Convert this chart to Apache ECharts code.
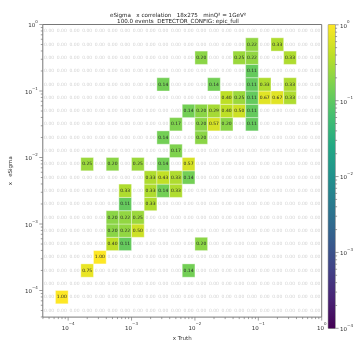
<!DOCTYPE html>
<html><head><meta charset="utf-8">
<script src="https://cdn.jsdelivr.net/npm/echarts@6/dist/echarts.min.js"></script>
<style>html,body{margin:0;padding:0;background:#fff}#c{width:356px;height:347px}</style>
</head><body><div id="c"></div>
<script>
// ---- chart text ----
const titleLine1 = 'eSigma   x correlation   18x275   minQ\u00b2 = 1GeV\u00b2';
const titleLine2 = '100.0 events  DETECTOR_CONFIG: epic_full';
const xAxisName = 'x Truth';
const yAxisName = 'x   eSigma';

// ---- bin edges (log10) ----
const xEdgeExp = [-4.4,-4.2,-4.0,-3.8,-3.6,-3.4,-3.2,-3.0,-2.8,-2.6,-2.4,-2.2,-2.0,-1.8,-1.6,-1.4,-1.2,-1.0,-0.8,-0.6,-0.4,-0.2,0.0];
const yEdgeExp = [-4.4,-4.2,-4.0,-3.8,-3.6,-3.4,-3.2,-3.0,-2.8,-2.6,-2.4,-2.2,-2.0,-1.8,-1.6,-1.4,-1.2,-1.0,-0.8,-0.6,-0.4,-0.2,0.0];

// ---- non-zero cells: column index, row index (from bottom), value ----
const cellCol = [16,18, 12,15,16,19, 16, 9,13,16,17,19, 14,15,16,17,18,19, 11,12,13,14,15,16, 10,12,13,14,16, 9,12, 10, 3,5,7,9,11, 8,9,10,11, 6,8,9,10, 6,8, 5,6,7, 5,6,7, 5,6,12, 4, 3,11, 1];
const cellRow = [20,20, 19,19,19,19, 18, 17,17,17,17,17, 16,16,16,16,16,16, 15,15,15,15,15,15, 14,14,14,14,14, 13,13, 12, 11,11,11,11,11, 10,10,10,10, 9,9,9,9, 8,8, 7,7,7, 6,6,6, 5,5,5, 4, 3,3, 1];
const cellVal = [0.22,0.33, 0.20,0.25,0.22,0.33, 0.11, 0.14,0.14,0.11,0.33,0.33, 0.40,0.25,0.11,0.67,0.67,0.33, 0.14,0.20,0.29,0.40,0.50,0.11, 0.17,0.20,0.57,0.20,0.11, 0.14,0.20, 0.17, 0.25,0.20,0.25,0.14,0.57, 0.33,0.43,0.33,0.14, 0.33,0.33,0.14,0.33, 0.11,0.33, 0.20,0.22,0.25, 0.20,0.22,0.50, 0.40,0.11,0.20, 1.00, 0.75,0.14, 1.00];

// ---- axis / colorbar ranges (log10) ----
const axisMinExp = -4.4, axisMaxExp = 0;
const cbMinExp = -4, cbMaxExp = 0;

const viridis = ['#440154','#482475','#414487','#355f8d','#2a788e','#21918c','#22a884','#44bf70','#7ad151','#bddf26','#fde725'];
const FONT = 'DejaVu Sans';

// build the histogram table
const lookup = {};
cellCol.forEach((c, k) => { lookup[c + ',' + cellRow[k]] = cellVal[k]; });
const cells = [];
for (let j = 0; j < yEdgeExp.length - 1; j++) {
  for (let i = 0; i < xEdgeExp.length - 1; i++) {
    const v = lookup[i + ',' + j] || 0;
    cells.push([Math.pow(10, xEdgeExp[i]), Math.pow(10, xEdgeExp[i + 1]),
                Math.pow(10, yEdgeExp[j]), Math.pow(10, yEdgeExp[j + 1]),
                v, v > 0 ? Math.log10(v) : -99]);
  }
}

// tick values (major decades + minor 2..9)
function tickList(lo, hi) {
  const out = [];
  for (let d = Math.floor(lo) - 1; d <= Math.ceil(hi); d++) {
    for (let m = 1; m <= 9; m++) {
      const e = d + Math.log10(m);
      if (e >= lo - 1e-9 && e <= hi + 1e-9) out.push([Math.pow(10, e), m === 1 ? 3.5 : 2]);
    }
  }
  return out;
}
const axTicks = tickList(axisMinExp, axisMaxExp);
const cbTicks = tickList(cbMinExp, cbMaxExp);
const xMin = Math.pow(10, axisMinExp), xMax = Math.pow(10, axisMaxExp);

function decadeLabel(v) {
  const e = Math.log10(v), r = Math.round(e);
  if (Math.abs(e - r) > 1e-6) return '';
  return '{b|10}{s|' + (r < 0 ? '\u2212' + (-r) : String(r)) + '}';
}
const labelRich = {
  b: { fontSize: 5.5, fontFamily: FONT, color: '#333', verticalAlign: 'bottom', lineHeight: 9 },
  s: { fontSize: 4, fontFamily: FONT, color: '#333', verticalAlign: 'top', lineHeight: 9 }
};

const chart = echarts.init(document.getElementById('c'), null, { renderer: 'canvas' });
chart.setOption({
  animation: false,
  backgroundColor: '#fff',
  title: [
    { text: titleLine1, left: 'center', top: 7.5, textStyle: { fontSize: 5.6, fontWeight: 'normal', fontFamily: FONT, color: '#222' } },
    { text: titleLine2, left: 'center', top: 14, textStyle: { fontSize: 5.6, fontWeight: 'normal', fontFamily: FONT, color: '#222' } }
  ],
  grid: [
    { left: 35.7, top: 24.5, width: 286, height: 303.8, show: true, borderColor: '#777', borderWidth: 1, backgroundColor: '#fff' },
    { left: 328.3, top: 24.8, width: 12.8, height: 303.5, show: true, borderColor: '#777', borderWidth: 1 }
  ],
  xAxis: [
    { type: 'log', gridIndex: 0, min: xMin, max: xMax, logBase: 10,
      axisLine: { show: false }, axisTick: { show: false }, splitLine: { show: false },
      axisLabel: { formatter: decadeLabel, rich: labelRich, margin: 5, showMinLabel: true, showMaxLabel: true, hideOverlap: false },
      name: xAxisName, nameLocation: 'middle', nameGap: 12,
      nameTextStyle: { fontSize: 5.5, fontFamily: FONT, color: '#333' } },
    { type: 'value', gridIndex: 1, min: 0, max: 1, show: false }
  ],
  yAxis: [
    { type: 'log', gridIndex: 0, min: xMin, max: xMax, logBase: 10,
      axisLine: { show: false }, axisTick: { show: false }, splitLine: { show: false },
      axisLabel: { formatter: decadeLabel, rich: labelRich, margin: 5, showMinLabel: true, showMaxLabel: true, hideOverlap: false },
      name: yAxisName, nameLocation: 'middle', nameGap: 19,
      nameTextStyle: { fontSize: 5.5, fontFamily: FONT, color: '#333' } },
    { type: 'log', gridIndex: 1, position: 'right', min: Math.pow(10, cbMinExp), max: Math.pow(10, cbMaxExp), logBase: 10,
      axisLine: { show: false }, axisTick: { show: false }, splitLine: { show: false },
      axisLabel: { formatter: decadeLabel, rich: labelRich, margin: 5, showMinLabel: true, showMaxLabel: true } }
  ],
  visualMap: {
    show: false, type: 'continuous', seriesIndex: 0, dimension: 5,
    min: cbMinExp, max: cbMaxExp, inRange: { color: viridis }, outOfRange: { color: 'rgba(0,0,0,0)' }
  },
  series: [
    { // histogram cells
      type: 'custom', xAxisIndex: 0, yAxisIndex: 0, data: cells, encode: { x: [0, 1], y: [2, 3] },
      renderItem(params, api) {
        const p0 = api.coord([api.value(0), api.value(2)]);
        const p1 = api.coord([api.value(1), api.value(3)]);
        const v = api.value(4);
        const children = [];
        if (v > 0) {
          children.push({ type: 'rect',
            shape: { x: p0[0], y: p1[1], width: p1[0] - p0[0], height: p0[1] - p1[1] },
            style: { fill: api.visual('color'), stroke: 'rgba(255,255,255,0.35)', lineWidth: 1 } });
        }
        children.push({ type: 'text', z2: 10,
          style: { text: v.toFixed(2), x: (p0[0] + p1[0]) / 2, y: (p0[1] + p1[1]) / 2,
                   align: 'center', verticalAlign: 'middle', fontSize: 4.5, fontFamily: FONT,
                   fill: v > 0 ? '#2a2a2a' : '#d2d2d2' } });
        return { type: 'group', children };
      }
    },
    { // x-axis ticks
      type: 'custom', xAxisIndex: 0, yAxisIndex: 0, silent: true,
      data: axTicks.map(t => [t[0], xMin, t[1]]), encode: { x: 0, y: 1 },
      renderItem(params, api) {
        const p = api.coord([api.value(0), api.value(1)]);
        return { type: 'line', shape: { x1: p[0], y1: p[1], x2: p[0], y2: p[1] + api.value(2) }, style: { stroke: '#777', lineWidth: 0.7 } };
      }
    },
    { // y-axis ticks
      type: 'custom', xAxisIndex: 0, yAxisIndex: 0, silent: true,
      data: axTicks.map(t => [xMin, t[0], t[1]]), encode: { x: 0, y: 1 },
      renderItem(params, api) {
        const p = api.coord([api.value(0), api.value(1)]);
        return { type: 'line', shape: { x1: p[0], y1: p[1], x2: p[0] - api.value(2), y2: p[1] }, style: { stroke: '#777', lineWidth: 0.7 } };
      }
    },
    { // colorbar gradient
      type: 'custom', xAxisIndex: 1, yAxisIndex: 1, silent: true,
      data: [[0, Math.pow(10, cbMinExp), 1, Math.pow(10, cbMaxExp)]], encode: { x: [0, 2], y: [1, 3] },
      renderItem(params, api) {
        const p0 = api.coord([api.value(0), api.value(1)]);
        const p1 = api.coord([api.value(2), api.value(3)]);
        return { type: 'rect', shape: { x: p0[0], y: p1[1], width: p1[0] - p0[0], height: p0[1] - p1[1] },
          style: { fill: new echarts.graphic.LinearGradient(0, 1, 0, 0, viridis.map((c, k) => ({ offset: k / (viridis.length - 1), color: c }))) } };
      }
    },
    { // colorbar ticks
      type: 'custom', xAxisIndex: 1, yAxisIndex: 1, silent: true,
      data: cbTicks.map(t => [1, t[0], t[1]]), encode: { x: 0, y: 1 },
      renderItem(params, api) {
        const p = api.coord([api.value(0), api.value(1)]);
        return { type: 'line', shape: { x1: p[0], y1: p[1], x2: p[0] + api.value(2), y2: p[1] }, style: { stroke: '#777', lineWidth: 0.7 } };
      }
    }
  ]
});
</script>
</body></html>
